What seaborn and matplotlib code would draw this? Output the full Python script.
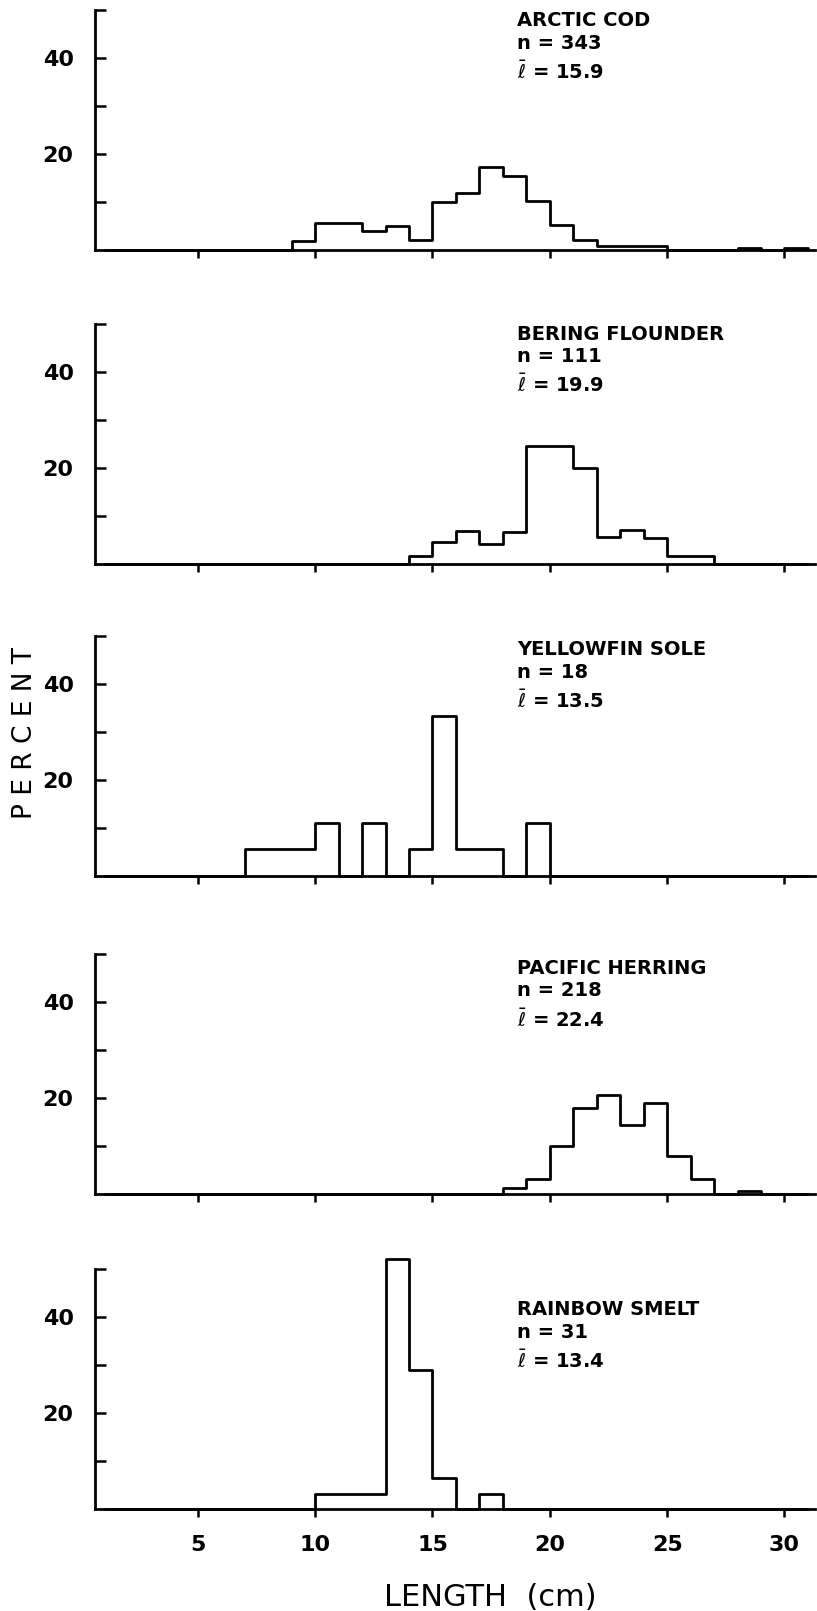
import numpy as np
import pandas as pd
import matplotlib
matplotlib.use("Agg")
import matplotlib.pyplot as plt
import seaborn as sns

# percent of fish in each 1-cm length class (value in *_cm = start of the class)
cod_cm = [9, 10, 11, 12, 13, 14, 15, 16, 17, 18, 19, 20, 21, 22, 23, 24, 28, 30]
cod_pct = [1.8, 5.6, 5.6, 3.9, 4.9, 2.1, 10.0, 11.9, 17.2, 15.4, 10.3, 5.3, 2.1, 0.9, 0.9, 0.9, 0.4, 0.4]

flounder_cm = [14, 15, 16, 17, 18, 19, 20, 21, 22, 23, 24, 25, 26]
flounder_pct = [1.6, 4.5, 6.9, 4.2, 6.7, 24.6, 24.6, 20.1, 5.7, 7.0, 5.5, 1.6, 1.6]

yellowfin_cm = [7, 8, 9, 10, 12, 14, 15, 16, 17, 19]
yellowfin_pct = [5.6, 5.6, 5.6, 11.1, 11.1, 5.6, 33.3, 5.6, 5.6, 11.1]

herring_cm = [18, 19, 20, 21, 22, 23, 24, 25, 26, 28]
herring_pct = [1.2, 3.1, 9.9, 17.9, 20.6, 14.3, 19.0, 7.9, 3.1, 0.6]

smelt_cm = [10, 11, 12, 13, 14, 15, 17]
smelt_pct = [3.2, 3.2, 3.2, 52.0, 29.0, 6.5, 3.2]

species = ["ARCTIC COD", "BERING FLOUNDER", "YELLOWFIN SOLE", "PACIFIC HERRING", "RAINBOW SMELT"]
n_fish = [343, 111, 18, 218, 31]
mean_len = ["15.9", "19.9", "13.5", "22.4", "13.4"]

lengths = [cod_cm, flounder_cm, yellowfin_cm, herring_cm, smelt_cm]
percents = [cod_pct, flounder_pct, yellowfin_pct, herring_pct, smelt_pct]

edges = list(range(1, 32))
x_ticks = [5, 10, 15, 20, 25, 30]
y_ticks = [10, 20, 30, 40, 50]
y_ticklabels = ["", "20", "", "40", ""]

sns.set_style("ticks")
plt.rcParams["font.family"] = ["DejaVu Sans"]
plt.rcParams["text.color"] = "black"
plt.rcParams["xtick.color"] = "black"
plt.rcParams["ytick.color"] = "black"

W, H = 817, 1611
fig = plt.figure(figsize=(W / 100, H / 100), dpi=100)

# pixel layout of the five panels
baselines = [250, 564, 876, 1194, 1509]
panel_h = 240
left, right = 94.5, 815
label_top = [47.8, 47.9, 47.2, 47.0, 41.5]

for i in range(5):
    b = baselines[i]
    ax = fig.add_axes([left / W, 1 - b / H, (right - left) / W, panel_h / H])
    df = pd.DataFrame({"length": np.array(lengths[i]) + 0.5, "pct": percents[i]})
    sns.histplot(data=df, x="length", weights="pct", bins=edges,
                 element="step", fill=False, color="black", linewidth=2.0, ax=ax)
    for ln in ax.lines:
        ln.set_clip_on(False)
    ax.set_xlim(0.6, 31.3)
    ax.set_ylim(0, 50)
    ax.set_xlabel("")
    ax.set_ylabel("")
    ax.set_xticks(x_ticks)
    ax.set_yticks(y_ticks)
    ax.set_yticklabels(y_ticklabels)
    ax.tick_params(axis="x", direction="out", length=6, width=1.8, pad=13,
                   labelsize=16, labelbottom=(i == 4), colors="black")
    ax.tick_params(axis="y", direction="in", length=8, width=1.8, pad=15, labelsize=16,
                   colors="black")
    for lab in ax.get_xticklabels() + ax.get_yticklabels():
        lab.set_fontweight("bold")
    sns.despine(ax=ax)
    for s in ["left", "bottom"]:
        ax.spines[s].set_linewidth(2.0)
        ax.spines[s].set_color("black")

    y0 = label_top[i]
    ax.text(18.6, y0, species[i], fontsize=14, fontweight="bold", va="center", color="black")
    ax.text(18.6, y0 - 4.7, f"n = {n_fish[i]}", fontsize=14, fontweight="bold", va="center",
            color="black")
    ax.text(18.6, y0 - 10.6, r"$\bar{\ell}$" + f" = {mean_len[i]}", fontsize=14,
            fontweight="bold", va="center", color="black")

fig.text(25 / W, 1 - 733 / H, "P E R C E N T", rotation=90, ha="center", va="center",
         fontsize=19, color="black")
fig.text(490 / W, 1 - 1598 / H, "LENGTH  (cm)", ha="center", va="center", fontsize=22,
         color="black")

fig.savefig("out.png", dpi=100, facecolor="white")
